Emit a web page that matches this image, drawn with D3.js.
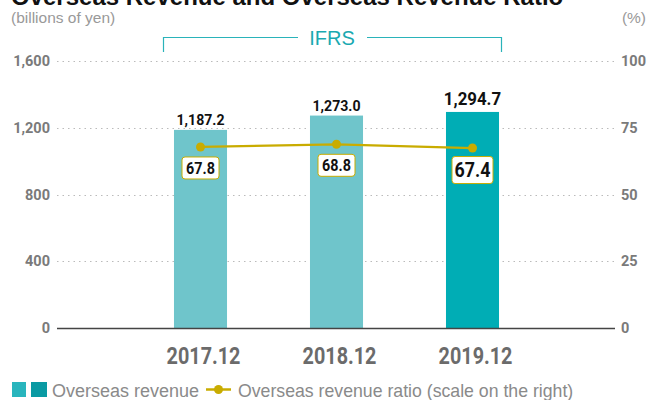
<!DOCTYPE html>
<html>
<head>
<meta charset="utf-8">
<script src="https://cdn.jsdelivr.net/npm/d3@7"></script>
<style>
	body { margin: 0; background: #fff; }
	svg { display: block; }
</style>
</head>
<body>
<div id="viz"></div>
<script>
const categories = ['2017.12', '2018.12', '2019.12'];
const revenue = [1187.2, 1273.0, 1294.7];
const ratio = [67.8, 68.8, 67.4];
const leftTicks = [0, 400, 800, 1200, 1600];
const rightTicks = [0, 25, 50, 75, 100];

const WIDTH = 651;
const HEIGHT = 400;
const PLOT_LEFT = 57;
const PLOT_RIGHT = 615;
const PLOT_TOP = 61;
const PLOT_BOTTOM = 328;

const LIGHT_TEAL = '#6fc5cb';
const DARK_TEAL = '#00adb5';
const GOLD = '#c9ac00';
const FONT = 'Roboto, "DejaVu Sans", sans-serif';
const SANS = '"Liberation Sans", Arial, sans-serif';

// squeeze a text horizontally, the reference uses a condensed face
const condense = (sel, factor) => {
	sel.each(function() {
		const w = this.getComputedTextLength();
		d3.select(this)
			.attr('textLength', w * factor)
			.attr('lengthAdjust', 'spacingAndGlyphs');
	});
};

const svg = d3.select('#viz').append('svg')
	.attr('width', WIDTH)
	.attr('height', HEIGHT);

const xScale = d3.scaleBand()
	.domain(categories)
	.range([132.5, 540.5])
	.paddingInner(0.61)
	.paddingOuter(0.305);

const yLeft = d3.scaleLinear().domain([0, 1600]).range([PLOT_BOTTOM, PLOT_TOP]);
const yRight = d3.scaleLinear().domain([0, 100]).range([PLOT_BOTTOM, PLOT_TOP]);

// title (cut off at the top edge)
svg.append('text')
	.attr('x', 11).attr('y', 5)
	.attr('font-family', SANS)
	.attr('font-weight', 'bold')
	.attr('font-size', 24)
	.attr('fill', '#111')
	.text('Overseas Revenue and Overseas Revenue Ratio');

svg.append('text')
	.attr('x', 11).attr('y', 23)
	.attr('font-family', SANS)
	.attr('font-size', 15.5)
	.attr('fill', '#999')
	.text('(billions of yen)');

svg.append('text')
	.attr('x', 646).attr('y', 23)
	.attr('text-anchor', 'end')
	.attr('font-family', SANS)
	.attr('font-size', 15.5)
	.attr('fill', '#999')
	.text('(%)');

// IFRS bracket
const bracket = svg.append('g').attr('class', 'ifrs');
bracket.append('path')
	.attr('fill', 'none')
	.attr('stroke', '#2ab3ba')
	.attr('stroke-width', 1.2)
	.attr('d', 'M163.5,52 V37.5 H298 M367,37.5 H501.5 V52');
bracket.append('text')
	.attr('x', 332).attr('y', 45)
	.attr('text-anchor', 'middle')
	.attr('font-family', SANS)
	.attr('font-size', 20)
	.attr('fill', '#1aa9b1')
	.text('IFRS');

// grid lines
svg.append('g').attr('class', 'grid')
	.selectAll('line')
	.data(leftTicks.filter((d) => d > 0))
	.enter()
	.append('line')
	.attr('x1', PLOT_LEFT).attr('x2', PLOT_RIGHT)
	.attr('y1', (d) => Math.round(yLeft(d)) + 0.5)
	.attr('y2', (d) => Math.round(yLeft(d)) + 0.5)
	.attr('stroke', '#bbb')
	.attr('stroke-width', 1)
	.attr('stroke-dasharray', '1.5,4');

// left axis
const leftAxis = svg.append('g')
	.attr('transform', 'translate(' + PLOT_LEFT + ',0)')
	.call(d3.axisLeft(yLeft).tickValues(leftTicks).tickFormat(d3.format(',')).tickSize(0).tickPadding(7));
leftAxis.select('.domain').remove();
leftAxis.selectAll('text')
	.attr('font-family', FONT)
	.attr('font-size', 14.5)
	.attr('font-weight', 'bold')
	.attr('fill', '#7a7a7a');

// right axis
const rightAxis = svg.append('g')
	.attr('transform', 'translate(' + PLOT_RIGHT + ',0)')
	.call(d3.axisRight(yRight).tickValues(rightTicks).tickSize(0).tickPadding(6));
rightAxis.select('.domain').remove();
rightAxis.selectAll('text')
	.attr('font-family', FONT)
	.attr('font-size', 14.5)
	.attr('font-weight', 'bold')
	.attr('fill', '#7a7a7a');

// bars
svg.append('g').attr('class', 'bars')
	.selectAll('rect')
	.data(revenue)
	.enter()
	.append('rect')
	.attr('x', (d, i) => xScale(categories[i]))
	.attr('y', (d) => yLeft(d))
	.attr('width', xScale.bandwidth())
	.attr('height', (d) => PLOT_BOTTOM - yLeft(d))
	.attr('fill', (d, i) => i === revenue.length - 1 ? DARK_TEAL : LIGHT_TEAL);

// baseline
svg.append('line')
	.attr('x1', PLOT_LEFT).attr('x2', PLOT_RIGHT)
	.attr('y1', PLOT_BOTTOM + 0.5).attr('y2', PLOT_BOTTOM + 0.5)
	.attr('stroke', '#444')
	.attr('stroke-width', 1.3);

// x axis labels
const xAxis = svg.append('g')
	.attr('transform', 'translate(0,' + PLOT_BOTTOM + ')')
	.call(d3.axisBottom(xScale).tickSize(0).tickPadding(0));
xAxis.select('.domain').remove();
xAxis.selectAll('text')
	.attr('dy', 36)
	.attr('x', 3)
	.attr('font-family', FONT)
	.attr('font-size', 23)
	.attr('font-weight', 'bold')
	.attr('fill', '#6b6b6b')
	.call(condense, 0.86);

// bar value labels
svg.append('g').attr('class', 'bar-labels')
	.selectAll('text')
	.data(revenue)
	.enter()
	.append('text')
	.attr('x', (d, i) => xScale(categories[i]) + xScale.bandwidth() / 2)
	.attr('y', (d, i) => yLeft(d) - (i === revenue.length - 1 ? 7 : 5))
	.attr('text-anchor', 'middle')
	.attr('font-family', FONT)
	.attr('font-weight', 'bold')
	.attr('font-size', (d, i) => i === revenue.length - 1 ? 18.5 : 15.5)
	.attr('fill', '#111')
	.text((d) => d3.format(',.1f')(d))
	.call(condense, 0.91);

// ratio line
const cx = (i) => xScale(categories[i]) + xScale.bandwidth() / 2;
const generateLine = d3.line()
	.x((d, i) => cx(i))
	.y((d) => yRight(d));

svg.append('path')
	.datum(ratio)
	.attr('fill', 'none')
	.attr('stroke', GOLD)
	.attr('stroke-width', 2.2)
	.attr('d', generateLine);

svg.append('g').selectAll('circle')
	.data(ratio)
	.enter()
	.append('circle')
	.attr('cx', (d, i) => cx(i))
	.attr('cy', (d) => yRight(d))
	.attr('r', 4.5)
	.attr('fill', GOLD);

// ratio labels in boxes
const ratioLabel = svg.append('g').selectAll('g')
	.data(ratio)
	.enter()
	.append('g')
	.attr('transform', (d, i) => 'translate(' + cx(i) + ',' + (yRight(d) + (i === ratio.length - 1 ? 22 : 21)) + ')');

ratioLabel.append('rect')
	.attr('x', (d, i) => i === ratio.length - 1 ? -20.5 : -18.5)
	.attr('y', (d, i) => i === ratio.length - 1 ? -13.5 : -11)
	.attr('width', (d, i) => i === ratio.length - 1 ? 41 : 37)
	.attr('height', (d, i) => i === ratio.length - 1 ? 27 : 22)
	.attr('rx', 3)
	.attr('fill', '#fff')
	.attr('stroke', GOLD)
	.attr('stroke-width', 1);

ratioLabel.append('text')
	.attr('text-anchor', 'middle')
	.attr('dy', (d, i) => i === ratio.length - 1 ? 7.2 : 6)
	.attr('font-family', FONT)
	.attr('font-weight', 'bold')
	.attr('font-size', (d, i) => i === ratio.length - 1 ? 20.5 : 16.5)
	.attr('fill', '#111')
	.text((d) => d.toFixed(1))
	.call(condense, 0.87);

// legend
const legend = svg.append('g').attr('class', 'legend');
legend.append('rect').attr('x', 12).attr('y', 382).attr('width', 14).attr('height', 15).attr('fill', '#29b5bd');
legend.append('rect').attr('x', 31).attr('y', 382).attr('width', 16).attr('height', 15).attr('fill', '#0a9aa3');
legend.append('text')
	.attr('x', 52).attr('y', 397)
	.attr('font-family', SANS)
	.attr('font-size', 18)
	.attr('fill', '#8a8a8a')
	.text('Overseas revenue');
legend.append('line')
	.attr('x1', 206).attr('x2', 231).attr('y1', 389.5).attr('y2', 389.5)
	.attr('stroke', GOLD).attr('stroke-width', 2.5);
legend.append('circle').attr('cx', 218.5).attr('cy', 389.5).attr('r', 4.5).attr('fill', GOLD);
legend.append('text')
	.attr('x', 238).attr('y', 397)
	.attr('font-family', SANS)
	.attr('font-size', 17.7)
	.attr('fill', '#8a8a8a')
	.text('Overseas revenue ratio (scale on the right)');
</script>
</body>
</html>
